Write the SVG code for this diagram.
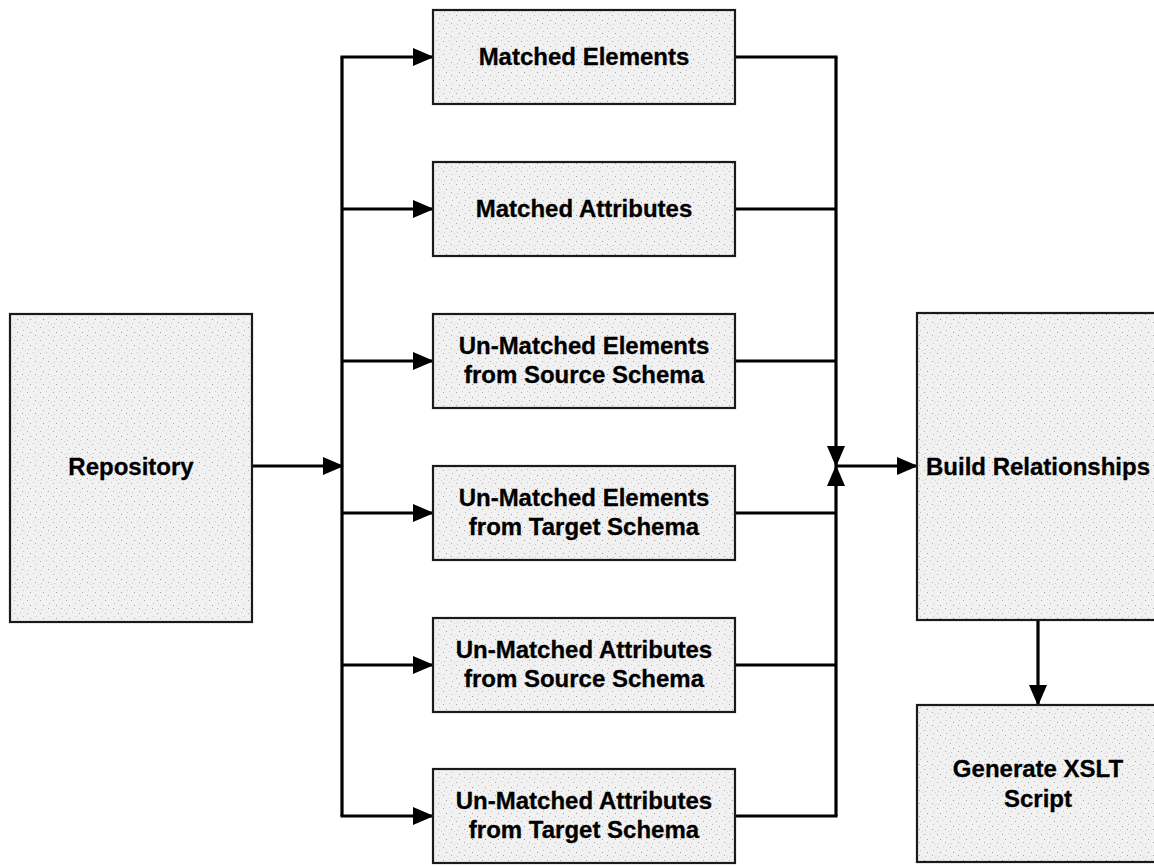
<svg xmlns="http://www.w3.org/2000/svg" width="1154" height="866" viewBox="0 0 1154 866">
  <style>
    .box { fill: url(#stipple); stroke: #1a1a1a; stroke-width: 2.2; }
    .label { font-family: "Liberation Sans", Arial, sans-serif; font-weight: bold; font-size: 24px; fill: #000; stroke: #000; stroke-width: 0.3; text-anchor: middle; }
    .wire { fill: none; stroke: #000; stroke-width: 3.2; }
  </style>
  <defs>
    <!-- light grey stippled fill used by every process box -->
    <pattern id="stipple" width="13" height="13" patternUnits="userSpaceOnUse">
      <rect width="13" height="13" fill="#f1f1f1"/>
      <rect x="1" y="2" width="1" height="1" fill="#a9a9a9"/>
      <rect x="7" y="1" width="1" height="1" fill="#cacaca"/>
      <rect x="4" y="7" width="1" height="1" fill="#9c9c9c"/>
      <rect x="10" y="5" width="1" height="1" fill="#c0c0c0"/>
      <rect x="2" y="11" width="1" height="1" fill="#c6c6c6"/>
      <rect x="9" y="10" width="1" height="1" fill="#a4a4a4"/>
      <rect x="12" y="12" width="1" height="1" fill="#d0d0d0"/>
    </pattern>
    <marker id="arrow" markerUnits="userSpaceOnUse" markerWidth="21" markerHeight="18" refX="20" refY="9" orient="auto">
      <path d="M0,0 L21,9 L0,18 Z" fill="#000"/>
    </marker>
  </defs>

  <g id="connectors">
    <!-- repository into the distribution bus -->
    <path class="wire" d="M252 466 H343" marker-end="url(#arrow)"/>
    <!-- distribution bus -->
    <path class="wire" d="M342 57 V816"/>
    <path class="wire" d="M340.5 57 H433" marker-end="url(#arrow)"/>
    <path class="wire" d="M342 209 H433" marker-end="url(#arrow)"/>
    <path class="wire" d="M342 361 H433" marker-end="url(#arrow)"/>
    <path class="wire" d="M342 513 H433" marker-end="url(#arrow)"/>
    <path class="wire" d="M342 665 H433" marker-end="url(#arrow)"/>
    <path class="wire" d="M340.5 816 H433" marker-end="url(#arrow)"/>
    <!-- collection bus -->
    <path class="wire" d="M735 57 H837.5"/>
    <path class="wire" d="M735 209 H836"/>
    <path class="wire" d="M735 361 H836"/>
    <path class="wire" d="M735 513 H836"/>
    <path class="wire" d="M735 665 H836"/>
    <path class="wire" d="M735 816 H837.5"/>
    <path class="wire" d="M836 57 V466" marker-end="url(#arrow)"/>
    <path class="wire" d="M836 816 V466" marker-end="url(#arrow)"/>
    <path class="wire" d="M836 466 H917" marker-end="url(#arrow)"/>
    <!-- build to generate -->
    <path class="wire" d="M1038 620 V705" marker-end="url(#arrow)"/>
  </g>

  <g id="repository">
    <rect class="box" x="10" y="314" width="242" height="308"/>
    <text class="label" x="131" y="475">Repository</text>
  </g>

  <g id="matched-elements">
    <rect class="box" x="433" y="10" width="302" height="94"/>
    <text class="label" x="584" y="65">Matched Elements</text>
  </g>

  <g id="matched-attributes">
    <rect class="box" x="433" y="162" width="302" height="94"/>
    <text class="label" x="584" y="217">Matched Attributes</text>
  </g>

  <g id="unmatched-elements-source">
    <rect class="box" x="433" y="314" width="302" height="94"/>
    <text class="label" x="584" y="354">Un-Matched Elements</text>
    <text class="label" x="584" y="383">from Source Schema</text>
  </g>

  <g id="unmatched-elements-target">
    <rect class="box" x="433" y="466" width="302" height="94"/>
    <text class="label" x="584" y="506">Un-Matched Elements</text>
    <text class="label" x="584" y="535">from Target Schema</text>
  </g>

  <g id="unmatched-attributes-source">
    <rect class="box" x="433" y="618" width="302" height="94"/>
    <text class="label" x="584" y="658">Un-Matched Attributes</text>
    <text class="label" x="584" y="687">from Source Schema</text>
  </g>

  <g id="unmatched-attributes-target">
    <rect class="box" x="433" y="769" width="302" height="94"/>
    <text class="label" x="584" y="809">Un-Matched Attributes</text>
    <text class="label" x="584" y="838">from Target Schema</text>
  </g>

  <g id="build-relationships">
    <rect class="box" x="917" y="313" width="243" height="307"/>
    <text class="label" x="1038" y="475">Build Relationships</text>
  </g>

  <g id="generate-xslt">
    <rect class="box" x="917" y="705" width="243" height="157"/>
    <text class="label" x="1038" y="777">Generate XSLT</text>
    <text class="label" x="1038" y="807">Script</text>
  </g>
</svg>
